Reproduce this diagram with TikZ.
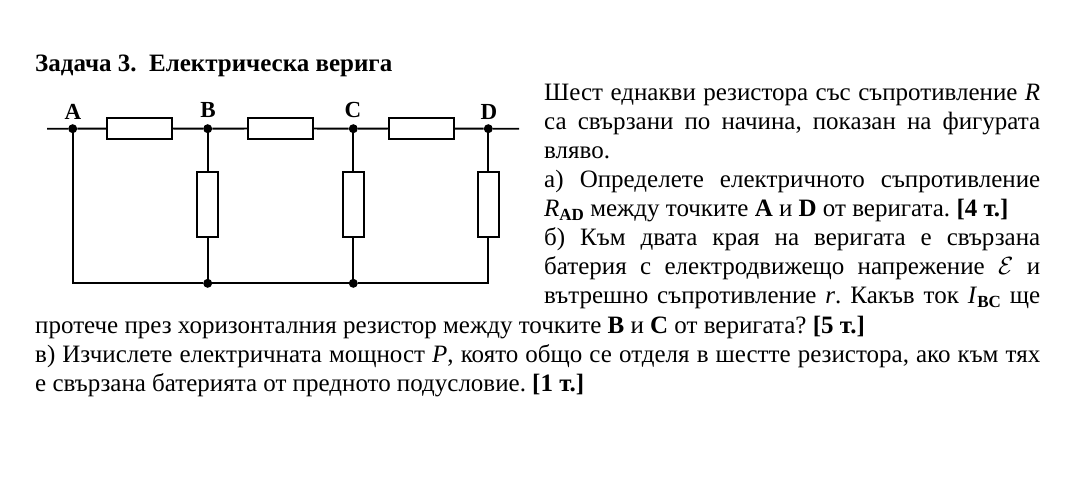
\documentclass[tikz,border=0pt]{standalone}
\usepackage{fontspec}
\setmainfont{Liberation Serif}
\frenchspacing
\newcommand{\subbf}[1]{\raisebox{-4pt}{\fontsize{17}{17}\selectfont\bfseries #1}}
\newcommand{\fullline}[1]{\makebox[496pt][s]{#1}}
\tikzset{
  wire/.style={line width=1.9pt},
  junction/.style={circle,fill=black,inner sep=0pt,minimum size=9pt},
  reshoriz/.style={draw,line width=1.9pt,fill=white,minimum width=65pt,minimum height=21pt,inner sep=0pt},
  resvert/.style={draw,line width=1.9pt,fill=white,minimum width=21pt,minimum height=65pt,inner sep=0pt},
  pointlabel/.style={font=\fontsize{23}{23}\selectfont\bfseries,anchor=base,inner sep=0pt},
  textline/.style={font=\fontsize{25}{25}\selectfont,anchor=base west,inner sep=0pt},
}
\begin{document}
\begin{tikzpicture}[x=1pt,y=-1pt]
        \useasboundingbox (0,0) rectangle (1080,487);
        % junctions on the top wire
        \node[junction] (A) at (72.7,128.7) {};
        \node[junction] (B) at (207.7,128.7) {};
        \node[junction] (C) at (353.3,128.7) {};
        \node[junction] (D) at (488.3,128.7) {};
        % junctions and corners on the bottom wire
        \coordinate (Abot) at (72.7,283.3);
        \node[junction] (Bbot) at (207.7,283.3) {};
        \node[junction] (Cbot) at (353.3,283.3) {};
        \coordinate (Dbot) at (488.3,283.3);
        % free ends of the top wire
        \coordinate (leftend) at (47,128.7);
        \coordinate (rightend) at (519,128.7);
        % resistors
        \node[reshoriz] (RAB) at (139.3,128.4) {};
        \node[reshoriz] (RBC) at (280.7,128.4) {};
        \node[reshoriz] (RCD) at (421.7,128.4) {};
        \node[resvert] (RB) at (207.7,204.7) {};
        \node[resvert] (RC) at (353.3,204.7) {};
        \node[resvert] (RD) at (488.3,204.7) {};
        % top wire
        \draw[wire] (leftend) -- (A) -- (RAB) -- (B) -- (RBC) -- (C) -- (RCD) -- (D) -- (rightend);
        % bottom wire
        \draw[wire] (A) -- (Abot) -- (Bbot) -- (Cbot) -- (Dbot) -- (RD) -- (D);
        % verticals
        \draw[wire] (B) -- (RB) -- (Bbot);
        \draw[wire] (C) -- (RC) -- (Cbot);
        % point labels
        \node[pointlabel] (labA) at (73,119.5) {A};
        \node[pointlabel] (labB) at (208,117.5) {B};
        \node[pointlabel] (labC) at (353,117.5) {C};
        \node[pointlabel] (labD) at (489,119.5) {D};
        % title
        \node[textline,font=\fontsize{25}{25}\selectfont\bfseries] (title) at (35,72) {Задача 3.\ \ Електрическа верига};
        % text beside the circuit
        \node[textline] (l1) at (544,100.7) {\fullline{Шест еднакви резистора със съпротивление \textit{R}}};
        \node[textline] (l2) at (544,129.5) {\fullline{са свързани по начина, показан на фигурата}};
        \node[textline] (l3) at (544,158) {вляво.};
        \node[textline] (l4) at (544,187) {\fullline{а) Определете електричното съпротивление}};
        \node[textline] (l5) at (544,216.5) {\textit{R}\subbf{AD} между точките \textbf{A} и \textbf{D} от веригата. \textbf{[4 т.]}};
        \node[textline] (l6) at (544,245) {\fullline{б) Към двата края на веригата е свързана}};
        \node[textline] (l7) at (544,274.5) {\fullline{батерия с електродвижещо напрежение $\mathcal{E}$ и}};
        \node[textline] (l8) at (544,303) {\fullline{вътрешно съпротивление \textit{r}. Какъв ток \textit{I}\subbf{BC} ще}};
        % text below the circuit
        \node[textline] (l9) at (35,333) {протече през хоризонталния резистор между точките \textbf{B} и \textbf{C} от веригата? \textbf{[5 т.]}};
        \node[textline] (l10) at (35,362.5) {\makebox[1005pt][s]{в) Изчислете електричната мощност \textit{P}, която общо се отделя в шестте резистора, ако към тях}};
        \node[textline] (l11) at (35,391.5) {е свързана батерията от предното подусловие. \textbf{[1 т.]}};
    \end{tikzpicture}
\end{document}
